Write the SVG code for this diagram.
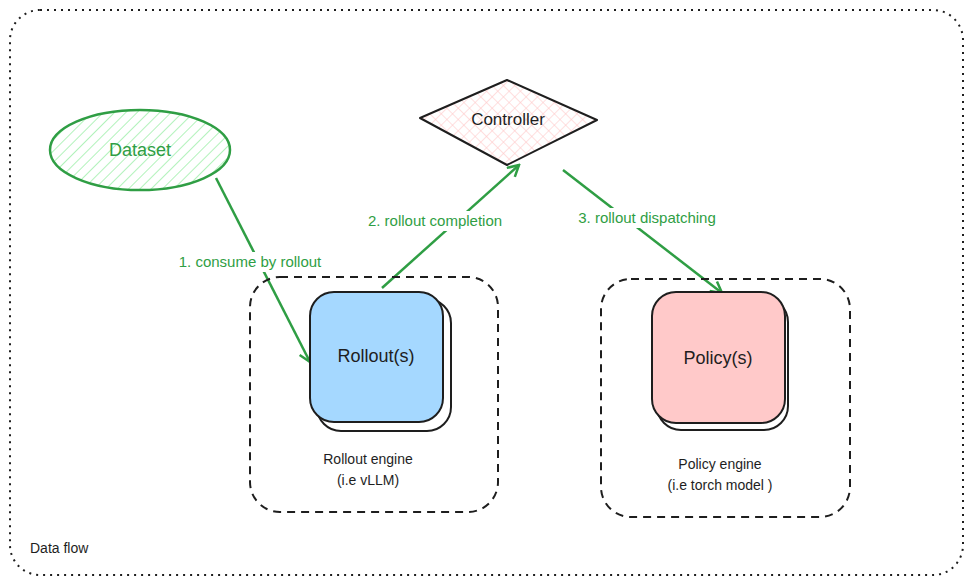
<svg xmlns="http://www.w3.org/2000/svg" width="973" height="583" viewBox="0 0 973 583">
<style>
.lbl{font-family:"Liberation Sans",sans-serif;font-size:14px;fill:#1e1e1e;text-anchor:middle}
.g{fill:#2f9e44;font-size:15px;font-family:"Liberation Sans",sans-serif;text-anchor:middle}
.dash{fill:none;stroke:#1e1e1e;stroke-width:2;stroke-dasharray:8 6}
.conn{stroke:#2f9e44;stroke-width:2.5;fill:none;marker-end:url(#ah)}
</style>
<defs>
<pattern id="hg" width="8" height="8" patternUnits="userSpaceOnUse" patternTransform="rotate(45)"><line x1="0" y1="0" x2="0" y2="8" stroke="#b2f2bb" stroke-width="2"/></pattern>
<pattern id="hr" width="8" height="8" patternUnits="userSpaceOnUse" patternTransform="rotate(45)"><line x1="0" y1="0" x2="0" y2="8" stroke="#ffc9c9" stroke-width="1.2"/><line x1="0" y1="0" x2="8" y2="0" stroke="#ffc9c9" stroke-width="1.2"/></pattern>
<marker id="ah" markerWidth="14" markerHeight="14" refX="12" refY="7" orient="auto" markerUnits="userSpaceOnUse"><path d="M1,1 L12,7 L1,13" fill="none" stroke="#2f9e44" stroke-width="2.5"/></marker>
</defs>
<rect x="10" y="10" width="953" height="565" rx="30" fill="none" stroke="#1e1e1e" stroke-width="2" stroke-dasharray="2 5"/>
<text x="30" y="553" font-family="Liberation Sans,sans-serif" font-size="14" fill="#1e1e1e">Data flow</text>
<g id="connectors">
<path class="conn" d="M216,178 L310,362"/>
<path class="conn" d="M382,288 L519,165"/>
<path class="conn" d="M563,170 L722,293"/>
<rect x="168" y="252" width="164" height="20" fill="#fff"/>
<text class="g" x="250" y="267">1. consume by rollout</text>
<rect x="354" y="211" width="162" height="20" fill="#fff"/>
<text class="g" x="435" y="226">2. rollout completion</text>
<rect x="563" y="208" width="168" height="20" fill="#fff"/>
<text class="g" x="647" y="223">3. rollout dispatching</text>
</g>
<g id="dataset">
<ellipse cx="140" cy="150" rx="90" ry="40" fill="url(#hg)" stroke="#2f9e44" stroke-width="2.5"/>
<text class="g" x="140" y="156" style="font-size:18px">Dataset</text>
</g>
<g id="controller">
<path d="M420,118 L507,80 L597,120 L507,165 Z" fill="url(#hr)" stroke="#1e1e1e" stroke-width="2" stroke-linejoin="round"/>
<text x="508" y="125" font-family="Liberation Sans,sans-serif" font-size="17" fill="#1e1e1e" text-anchor="middle">Controller</text>
</g>
<g id="rollout-engine">
<rect x="250" y="277" width="248" height="235" rx="30" class="dash"/>
<rect x="317" y="299" width="134" height="132" rx="24" fill="#fff" stroke="#1e1e1e" stroke-width="2"/>
<rect x="310" y="292" width="133" height="130" rx="24" fill="#a5d8ff" stroke="#1e1e1e" stroke-width="2"/>
<text x="376" y="362" font-family="Liberation Sans,sans-serif" font-size="18" fill="#1e1e1e" text-anchor="middle">Rollout(s)</text>
<text class="lbl" x="368" y="464">Rollout engine</text>
<text class="lbl" x="368" y="485">(i.e vLLM)</text>
</g>
<g id="policy-engine">
<rect x="601" y="279" width="249" height="238" rx="30" class="dash"/>
<rect x="657" y="298" width="131" height="132" rx="24" fill="#fff" stroke="#1e1e1e" stroke-width="2"/>
<rect x="652" y="292" width="133" height="131" rx="24" fill="#ffc9c9" stroke="#1e1e1e" stroke-width="2"/>
<text x="718" y="364" font-family="Liberation Sans,sans-serif" font-size="18" fill="#1e1e1e" text-anchor="middle">Policy(s)</text>
<text class="lbl" x="720" y="469">Policy engine</text>
<text class="lbl" x="720" y="490">(i.e torch model )</text>
</g>
</svg>
